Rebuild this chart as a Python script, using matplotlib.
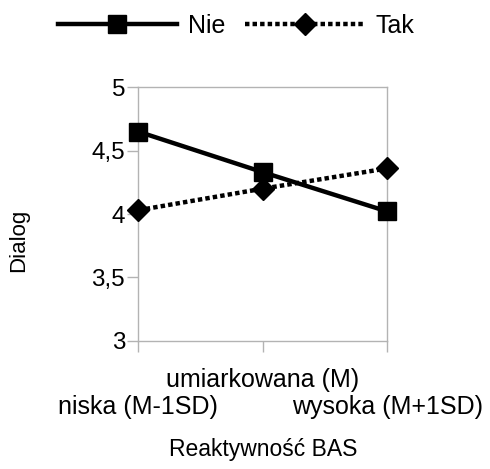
import matplotlib
matplotlib.use("Agg")
import matplotlib.pyplot as plt

plt.rcParams['font.family'] = ['Liberation Sans', 'DejaVu Sans']

categories = ["niska (M-1SD)", "umiarkowana (M)", "wysoka (M+1SD)"]
nie = [4.65, 4.33, 4.02]
tak = [4.03, 4.20, 4.36]
yticks = [3, 3.5, 4, 4.5, 5]
ytick_labels = ["3", "3,5", "4", "4,5", "5"]

W, H = 490, 469
fig = plt.figure(figsize=(W / 100, H / 100), dpi=100)
left, right, top, bottom = 138.3, 387.3, 87.3, 340.7
ax = fig.add_axes([left / W, 1 - bottom / H, (right - left) / W, (bottom - top) / H])

x = list(range(len(categories)))
ax.plot(x, nie, color='black', linewidth=3.2, linestyle='-', marker='s', markersize=13,
        label='Nie', clip_on=False, zorder=3)
ax.plot(x, tak, color='black', linewidth=3.2, linestyle=(0, (1.0, 0.7)), marker='D', markersize=11.5,
        label='Tak', clip_on=False, zorder=3)

ax.set_xlim(0, len(categories) - 1)
ax.set_ylim(3, 5)
ax.set_yticks(yticks)
ax.set_yticklabels(ytick_labels, fontsize=17.5)

# staggered category labels: outer ones on major ticks (lower row), middle on minor (upper row)
outer = [i for i in x if i % 2 == 0]
inner = [i for i in x if i % 2 == 1]
ax.set_xticks(outer)
ax.set_xticklabels([categories[i] for i in outer], fontsize=18)
ax.set_xticks(inner, minor=True)
ax.set_xticklabels([categories[i] for i in inner], minor=True, fontsize=18)

for s in ax.spines.values():
    s.set_color('#b3b3b3')
    s.set_linewidth(1)
ax.tick_params(axis='both', which='both', colors='#b3b3b3', labelcolor='black', length=8, width=1)
ax.tick_params(axis='y', pad=1.5)
ax.tick_params(axis='x', which='minor', pad=12)
ax.tick_params(axis='x', which='major', pad=31)

ax.set_ylabel("Dialog", fontsize=16)
ax.yaxis.set_label_coords((29 - left) / (right - left), (bottom - 240) / (bottom - top))
ax.set_xlabel("Reaktywność BAS", fontsize=16.5)
ax.xaxis.set_label_coords(0.5, (bottom - 438) / (bottom - top))

fig.legend(loc='center', bbox_to_anchor=(236 / W, 1 - 26 / H), ncol=2, frameon=False,
           fontsize=18, handlelength=4.75, handletextpad=0.45, columnspacing=0.8)

fig.savefig("out.png", dpi=100)
